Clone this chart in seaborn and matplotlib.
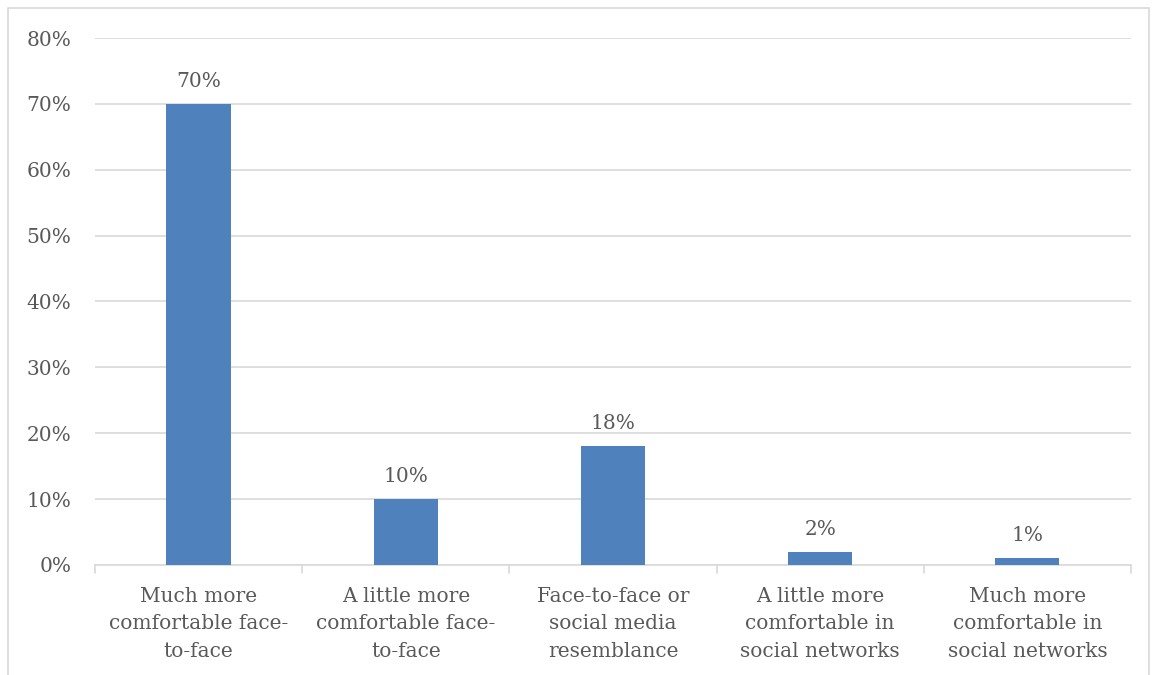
import numpy as np
import pandas as pd
import matplotlib
matplotlib.use("Agg")
import matplotlib.pyplot as plt
import seaborn as sns
from matplotlib.patches import Rectangle
from matplotlib.ticker import PercentFormatter

categories = [
    "Much more\ncomfortable face-\nto-face",
    "A little more\ncomfortable face-\nto-face",
    "Face-to-face or\nsocial media\nresemblance",
    "A little more\ncomfortable in\nsocial networks",
    "Much more\ncomfortable in\nsocial networks",
]
values = [70, 10, 18, 2, 1]
yticks = [0, 10, 20, 30, 40, 50, 60, 70, 80]

df = pd.DataFrame({"Category": categories, "Percent": values})

sns.set_style("white")
plt.rcParams["font.family"] = ["DejaVu Serif"]

text_color = "#595959"
grid_color = "#D9D9D9"
bar_color = "#4F81BD"
fs = 14.5

fig = plt.figure(figsize=(11.57, 6.75), dpi=100)
ax = fig.add_axes([0.0821, 0.163, 0.8954, 0.7807])

sns.barplot(data=df, x="Category", y="Percent", ax=ax, color=bar_color,
            width=0.31, saturation=1, linewidth=0, zorder=3)

ax.set_ylim(0, 80)
ax.set_xlim(-0.5, len(categories) - 0.5)
ax.set_yticks(yticks)
ax.yaxis.set_major_formatter(PercentFormatter(decimals=0))
ax.grid(axis="y", color=grid_color, linewidth=1.2, zorder=0)
ax.set_xlabel("")
ax.set_ylabel("")

for s in ["top", "right", "left"]:
    ax.spines[s].set_visible(False)
ax.spines["bottom"].set_color(grid_color)
ax.spines["bottom"].set_linewidth(1.2)

ax.tick_params(axis="y", length=0, labelsize=fs, labelcolor=text_color, pad=17)
ax.tick_params(axis="x", length=0, labelsize=fs, labelcolor=text_color, pad=16)
for lbl in ax.get_xticklabels():
    lbl.set_linespacing(1.55)

# category boundary tick marks below the axis
for b in np.arange(-0.5, len(categories), 1.0):
    ax.plot([b, b], [0, -1.2], color=grid_color, linewidth=1.2,
            clip_on=False, zorder=3)

for i, v in enumerate(values):
    ax.text(i, v + 2.0, f"{v}%", ha="center", va="bottom",
            fontsize=fs, color=text_color)

fig.patches.append(Rectangle((8 / 1157, -0.05), 1 - 16 / 1157, 1 - 8 / 675 + 0.05,
                             transform=fig.transFigure, fill=False,
                             edgecolor=grid_color, linewidth=1.2))

fig.savefig("out.png", dpi=100)
